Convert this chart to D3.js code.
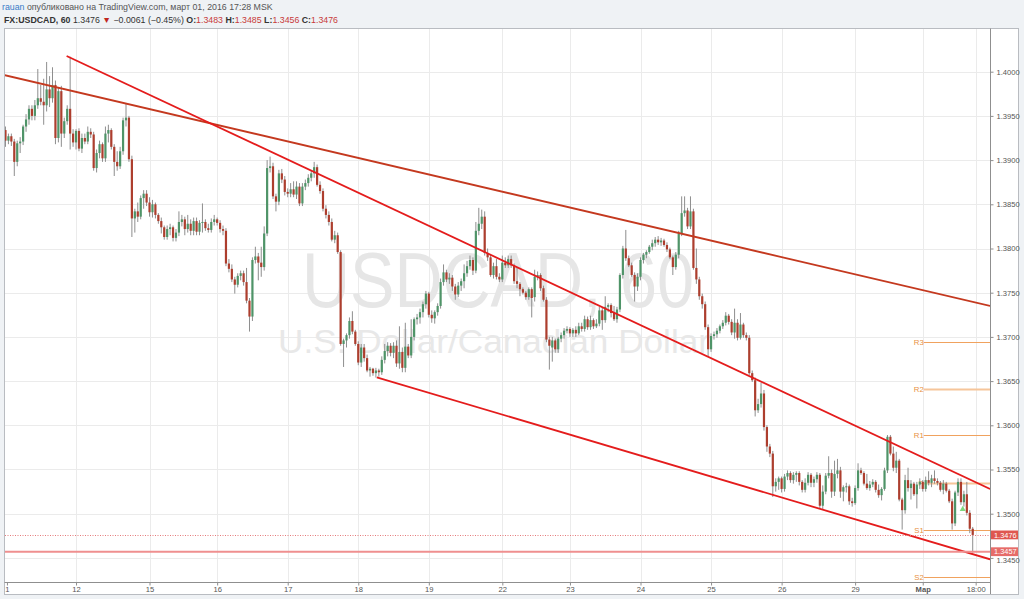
<!DOCTYPE html>
<html><head><meta charset="utf-8">
<script src="https://cdn.jsdelivr.net/npm/d3@7"></script>
<style>html,body{margin:0;padding:0;background:#eff2f5;overflow:hidden}svg{display:block}</style>
</head><body>
<script>
// ---------- DATA (USDCAD, 60 min) ----------
const opens = [
1.3934,1.3922,1.3927,1.3921,1.3898,1.3919,1.3921,1.3938,1.3946,1.3958,
1.3950,1.3962,1.3970,1.3966,1.3962,1.3980,1.3970,1.3985,1.3925,1.3978,
1.3930,1.3944,1.3958,1.3930,1.3920,1.3933,1.3913,1.3925,1.3921,1.3932,
1.3929,1.3891,1.3908,1.3918,1.3902,1.3930,1.3934,1.3915,1.3898,1.3893,
1.3910,1.3945,1.3948,1.3901,1.3834,1.3842,1.3836,1.3857,1.3862,1.3852,
1.3841,1.3850,1.3838,1.3831,1.3824,1.3813,1.3822,1.3824,1.3812,1.3818,
1.3830,1.3833,1.3822,1.3828,1.3820,1.3831,1.3819,1.3829,1.3830,1.3823,
1.3821,1.3830,1.3833,1.3829,1.3822,1.3820,1.3783,1.3777,1.3765,1.3759,
1.3769,1.3772,1.3762,1.3741,1.3723,1.3787,1.3791,1.3784,1.3779,1.3817,
1.3891,1.3893,1.3859,1.3853,1.3885,1.3878,1.3864,1.3862,1.3867,1.3861,
1.3870,1.3851,1.3870,1.3874,1.3880,1.3885,1.3892,1.3872,1.3865,1.3845,
1.3838,1.3830,1.3810,1.3815,1.3796,1.3692,1.3696,1.3702,1.3718,1.3706,
1.3692,1.3671,1.3688,1.3676,1.3662,1.3664,1.3659,1.3662,1.3660,1.3674,
1.3684,1.3690,1.3682,1.3690,1.3670,1.3683,1.3665,1.3689,1.3679,1.3700,
1.3720,1.3722,1.3728,1.3737,1.3749,1.3725,1.3721,1.3728,1.3735,1.3762,
1.3773,1.3765,1.3767,1.3757,1.3748,1.3758,1.3763,1.3772,1.3780,1.3787,
1.3775,1.3820,1.3828,1.3836,1.3795,1.3790,1.3770,1.3780,1.3768,1.3765,
1.3784,1.3781,1.3788,1.3781,1.3763,1.3760,1.3754,1.3750,1.3745,1.3754,
1.3745,1.3768,1.3770,1.3755,1.3742,1.3697,1.3688,1.3696,1.3686,1.3698,
1.3702,1.3707,1.3709,1.3704,1.3708,1.3704,1.3712,1.3709,1.3720,1.3711,
1.3719,1.3712,1.3715,1.3730,1.3719,1.3734,1.3736,1.3727,1.3720,1.3731,
1.3770,1.3800,1.3789,1.3781,1.3770,1.3757,1.3768,1.3787,1.3793,1.3796,
1.3802,1.3806,1.3810,1.3807,1.3809,1.3804,1.3799,1.3790,1.3779,1.3793,
1.3817,1.3840,1.3843,1.3825,1.3842,1.3778,1.3765,1.3746,1.3737,1.3711,
1.3686,1.3701,1.3703,1.3707,1.3712,1.3716,1.3724,1.3717,1.3705,1.3716,
1.3699,1.3714,1.3702,1.3699,1.3659,1.3651,1.3617,1.3624,1.3636,1.3598,
1.3576,1.3568,1.3531,1.3536,1.3540,1.3528,1.3542,1.3546,1.3538,1.3544,
1.3546,1.3536,1.3527,1.3535,1.3544,1.3535,1.3539,1.3544,1.3509,1.3525,
1.3543,1.3546,1.3525,1.3545,1.3549,1.3525,1.3530,1.3531,1.3514,1.3512,
1.3529,1.3549,1.3546,1.3534,1.3529,1.3533,1.3536,1.3527,1.3521,1.3528,
1.3549,1.3587,1.3568,1.3552,1.3560,1.3516,1.3504,1.3538,1.3529,1.3534,
1.3522,1.3533,1.3536,1.3528,1.3538,1.3535,1.3540,1.3537,1.3535,1.3527,
1.3534,1.3526,1.3514,1.3489,1.3524,1.3536,1.3513,1.3522,1.3501,1.3483];
const highs = [
1.3938,1.3930,1.3930,1.3924,1.3922,1.3926,1.3940,1.3952,1.3962,1.3962,
1.3968,1.4003,1.3985,1.3992,1.4011,1.3995,1.4005,1.3990,1.3982,1.3984,
1.3948,1.3962,1.4017,1.3935,1.3935,1.3936,1.3930,1.3930,1.3938,1.3936,
1.3932,1.3912,1.3922,1.3920,1.3938,1.3940,1.3936,1.3918,1.3910,1.3915,
1.3948,1.3964,1.3950,1.3905,1.3845,1.3852,1.3860,1.3866,1.3866,1.3858,
1.3855,1.3852,1.3840,1.3835,1.3826,1.3826,1.3828,1.3826,1.3822,1.3842,
1.3838,1.3836,1.3838,1.3833,1.3835,1.3835,1.3832,1.3851,1.3833,1.3828,
1.3834,1.3838,1.3835,1.3832,1.3826,1.3823,1.3788,1.3782,1.3768,1.3772,
1.3775,1.3775,1.3778,1.3744,1.3790,1.3802,1.3795,1.3802,1.3825,1.3900,
1.3904,1.3897,1.3862,1.3889,1.3890,1.3882,1.3868,1.3874,1.3876,1.3876,
1.3874,1.3874,1.3878,1.3884,1.3888,1.3898,1.3895,1.3876,1.3868,1.3849,
1.3842,1.3834,1.3820,1.3818,1.3798,1.3698,1.3704,1.3722,1.3729,1.3708,
1.3695,1.3692,1.3692,1.3680,1.3666,1.3665,1.3665,1.3664,1.3678,1.3692,
1.3694,1.3693,1.3694,1.3696,1.3712,1.3688,1.3716,1.3692,1.3720,1.3722,
1.3726,1.3732,1.3740,1.3752,1.3751,1.3730,1.3730,1.3738,1.3766,1.3782,
1.3776,1.3772,1.3770,1.3760,1.3762,1.3766,1.3782,1.3786,1.3792,1.3790,
1.3830,1.3846,1.3844,1.3842,1.3800,1.3793,1.3784,1.3788,1.3772,1.3792,
1.3790,1.3792,1.3792,1.3783,1.3778,1.3762,1.3756,1.3752,1.3756,1.3756,
1.3776,1.3774,1.3772,1.3758,1.3745,1.3700,1.3700,1.3698,1.3700,1.3705,
1.3710,1.3712,1.3711,1.3710,1.3712,1.3716,1.3716,1.3724,1.3723,1.3724,
1.3721,1.3720,1.3734,1.3733,1.3746,1.3738,1.3738,1.3735,1.3734,1.3772,
1.3803,1.3821,1.3792,1.3784,1.3773,1.3772,1.3790,1.3795,1.3798,1.3804,
1.3810,1.3813,1.3814,1.3812,1.3811,1.3807,1.3801,1.3792,1.3796,1.3820,
1.3859,1.3859,1.3846,1.3859,1.3845,1.3800,1.3768,1.3749,1.3740,1.3714,
1.3704,1.3706,1.3710,1.3714,1.3719,1.3728,1.3726,1.3720,1.3732,1.3720,
1.3727,1.3716,1.3705,1.3702,1.3662,1.3654,1.3630,1.3648,1.3640,1.3600,
1.3579,1.3571,1.3540,1.3542,1.3542,1.3545,1.3549,1.3548,1.3547,1.3548,
1.3548,1.3538,1.3540,1.3547,1.3546,1.3542,1.3547,1.3546,1.3532,1.3546,
1.3565,1.3550,1.3560,1.3562,1.3553,1.3532,1.3535,1.3533,1.3518,1.3532,
1.3557,1.3552,1.3548,1.3545,1.3537,1.3539,1.3538,1.3533,1.3530,1.3552,
1.3589,1.3589,1.3576,1.3570,1.3562,1.3518,1.3544,1.3552,1.3538,1.3536,
1.3536,1.3540,1.3538,1.3542,1.3548,1.3544,1.3549,1.3540,1.3537,1.3538,
1.3536,1.3528,1.3517,1.3526,1.3540,1.3540,1.3526,1.3536,1.3504,1.3485];
const lows = [
1.3915,1.3918,1.3916,1.3882,1.3893,1.3908,1.3917,1.3932,1.3940,1.3945,
1.3945,1.3958,1.3962,1.3940,1.3955,1.3960,1.3965,1.3918,1.3920,1.3915,
1.3925,1.3940,1.3912,1.3915,1.3912,1.3910,1.3908,1.3918,1.3918,1.3925,
1.3888,1.3886,1.3902,1.3898,1.3898,1.3920,1.3912,1.3882,1.3888,1.3890,
1.3906,1.3938,1.3898,1.3813,1.3818,1.3830,1.3833,1.3845,1.3848,1.3836,
1.3835,1.3834,1.3828,1.3817,1.3810,1.3810,1.3815,1.3808,1.3808,1.3814,
1.3825,1.3815,1.3818,1.3815,1.3815,1.3815,1.3815,1.3818,1.3820,1.3818,
1.3818,1.3826,1.3826,1.3818,1.3815,1.3780,1.3773,1.3762,1.3749,1.3756,
1.3764,1.3758,1.3738,1.3706,1.3718,1.3783,1.3764,1.3768,1.3775,1.3814,
1.3886,1.3856,1.3842,1.3849,1.3874,1.3860,1.3858,1.3858,1.3858,1.3856,
1.3848,1.3848,1.3866,1.3870,1.3876,1.3880,1.3870,1.3862,1.3842,1.3834,
1.3826,1.3808,1.3806,1.3794,1.3690,1.3666,1.3688,1.3698,1.3703,1.3690,
1.3668,1.3666,1.3672,1.3660,1.3655,1.3656,1.3654,1.3655,1.3657,1.3670,
1.3678,1.3678,1.3676,1.3666,1.3664,1.3660,1.3660,1.3676,1.3676,1.3696,
1.3714,1.3715,1.3722,1.3732,1.3722,1.3716,1.3715,1.3724,1.3732,1.3758,
1.3762,1.3760,1.3752,1.3742,1.3745,1.3752,1.3755,1.3768,1.3776,1.3770,
1.3772,1.3815,1.3822,1.3792,1.3786,1.3768,1.3766,1.3765,1.3762,1.3762,
1.3778,1.3778,1.3778,1.3760,1.3755,1.3746,1.3748,1.3742,1.3742,1.3722,
1.3740,1.3764,1.3752,1.3740,1.3694,1.3663,1.3672,1.3682,1.3682,1.3694,
1.3698,1.3704,1.3700,1.3700,1.3700,1.3702,1.3706,1.3706,1.3708,1.3708,
1.3709,1.3710,1.3712,1.3708,1.3716,1.3728,1.3722,1.3718,1.3716,1.3728,
1.3766,1.3786,1.3779,1.3768,1.3740,1.3752,1.3764,1.3783,1.3789,1.3794,
1.3798,1.3802,1.3804,1.3803,1.3802,1.3796,1.3788,1.3770,1.3776,1.3789,
1.3814,1.3836,1.3822,1.3822,1.3776,1.3760,1.3742,1.3732,1.3708,1.3678,
1.3683,1.3697,1.3699,1.3704,1.3709,1.3713,1.3714,1.3702,1.3698,1.3696,
1.3697,1.3699,1.3696,1.3657,1.3649,1.3610,1.3614,1.3620,1.3594,1.3570,
1.3564,1.3519,1.3525,1.3527,1.3524,1.3525,1.3538,1.3535,1.3534,1.3536,
1.3532,1.3524,1.3524,1.3532,1.3530,1.3530,1.3535,1.3506,1.3505,1.3522,
1.3540,1.3518,1.3520,1.3540,1.3518,1.3514,1.3524,1.3510,1.3508,1.3510,
1.3526,1.3544,1.3532,1.3527,1.3526,1.3530,1.3524,1.3518,1.3515,1.3526,
1.3546,1.3566,1.3548,1.3546,1.3514,1.3482,1.3500,1.3525,1.3516,1.3520,
1.3506,1.3528,1.3525,1.3525,1.3532,1.3530,1.3534,1.3532,1.3525,1.3522,
1.3524,1.3512,1.3482,1.3486,1.3520,1.3510,1.3508,1.3498,1.3478,1.3456];
const closes = [
1.3922,1.3927,1.3921,1.3898,1.3919,1.3921,1.3938,1.3946,1.3958,1.3950,
1.3962,1.3970,1.3966,1.3962,1.3980,1.3970,1.3985,1.3925,1.3978,1.3930,
1.3944,1.3958,1.3930,1.3920,1.3933,1.3913,1.3925,1.3921,1.3932,1.3929,
1.3891,1.3908,1.3918,1.3902,1.3930,1.3934,1.3915,1.3898,1.3893,1.3910,
1.3945,1.3948,1.3901,1.3834,1.3842,1.3836,1.3857,1.3862,1.3852,1.3841,
1.3850,1.3838,1.3831,1.3824,1.3813,1.3822,1.3824,1.3812,1.3818,1.3830,
1.3833,1.3822,1.3828,1.3820,1.3831,1.3819,1.3829,1.3830,1.3823,1.3821,
1.3830,1.3833,1.3829,1.3822,1.3820,1.3783,1.3777,1.3765,1.3759,1.3769,
1.3772,1.3762,1.3741,1.3723,1.3787,1.3791,1.3784,1.3779,1.3817,1.3891,
1.3893,1.3859,1.3853,1.3885,1.3878,1.3864,1.3862,1.3867,1.3861,1.3870,
1.3851,1.3870,1.3874,1.3880,1.3885,1.3892,1.3872,1.3865,1.3845,1.3838,
1.3830,1.3810,1.3815,1.3796,1.3692,1.3696,1.3702,1.3718,1.3706,1.3692,
1.3671,1.3688,1.3676,1.3662,1.3664,1.3659,1.3662,1.3660,1.3674,1.3684,
1.3690,1.3682,1.3690,1.3670,1.3683,1.3665,1.3689,1.3679,1.3700,1.3720,
1.3722,1.3728,1.3737,1.3749,1.3725,1.3721,1.3728,1.3735,1.3762,1.3773,
1.3765,1.3767,1.3757,1.3748,1.3758,1.3763,1.3772,1.3780,1.3787,1.3775,
1.3820,1.3828,1.3836,1.3795,1.3790,1.3770,1.3780,1.3768,1.3765,1.3784,
1.3781,1.3788,1.3781,1.3763,1.3760,1.3754,1.3750,1.3745,1.3754,1.3744,
1.3768,1.3770,1.3755,1.3742,1.3697,1.3690,1.3696,1.3686,1.3698,1.3702,
1.3707,1.3709,1.3704,1.3708,1.3704,1.3712,1.3709,1.3720,1.3711,1.3719,
1.3712,1.3715,1.3730,1.3719,1.3734,1.3736,1.3727,1.3720,1.3731,1.3770,
1.3800,1.3789,1.3781,1.3770,1.3757,1.3768,1.3787,1.3793,1.3796,1.3802,
1.3806,1.3810,1.3807,1.3809,1.3804,1.3799,1.3790,1.3779,1.3793,1.3817,
1.3840,1.3843,1.3825,1.3842,1.3778,1.3765,1.3746,1.3737,1.3711,1.3686,
1.3701,1.3703,1.3707,1.3712,1.3716,1.3724,1.3717,1.3705,1.3716,1.3699,
1.3714,1.3702,1.3699,1.3659,1.3651,1.3617,1.3624,1.3636,1.3598,1.3576,
1.3568,1.3531,1.3536,1.3540,1.3528,1.3542,1.3546,1.3538,1.3544,1.3546,
1.3536,1.3527,1.3535,1.3544,1.3535,1.3539,1.3544,1.3509,1.3525,1.3543,
1.3546,1.3525,1.3545,1.3549,1.3525,1.3530,1.3531,1.3514,1.3512,1.3529,
1.3549,1.3546,1.3534,1.3529,1.3533,1.3536,1.3527,1.3521,1.3528,1.3549,
1.3587,1.3568,1.3552,1.3560,1.3516,1.3504,1.3538,1.3529,1.3534,1.3522,
1.3533,1.3536,1.3528,1.3538,1.3535,1.3540,1.3537,1.3535,1.3527,1.3534,
1.3526,1.3514,1.3489,1.3524,1.3536,1.3513,1.3522,1.3501,1.3483,1.3476];

const timeTickIdx    = [0.5, 24, 49, 72, 96, 120, 144, 169, 192, 216, 240, 264, 289, 312, 330];
const timeTickLabels = ["1","12","15","16","17","18","19","22","23","24","25","26","29","Мар","18:00"];
const priceTicks = [1.3450,1.3500,1.3550,1.3600,1.3650,1.3700,1.3750,1.3800,1.3850,1.3900,1.3950,1.4000];

const pivotNames  = ["R3","R2","R1","P","S1","S2"];
const pivotValues = [1.3694,1.3641,1.3589,1.3535,1.3482,1.3428];
const pivotStartIdx = 312;

const trendStartIdx   = [-0.5, 20.8, 126.3];
const trendStartPrice = [1.39963, 1.40178, 1.36543];
const trendEndIdx     = [334.9, 334.9, 334.9];
const trendEndPrice   = [1.37350, 1.35279, 1.34484];

const lastPrice = 1.3476;
const hLinePrice = 1.3457;
const markerIdx = [325.6];
const markerPrice = [1.3505];

// ---------- LAYOUT / STYLE ----------
const W = 1024, H = 599;
const plot = {l: 5, r: 990, t: 29, b: 582};
const FONT = "'Liberation Sans', Arial, 'DejaVu Sans', sans-serif";
const upFill = "#4f9468", downFill = "#ad3e2e", wickCol = "#8e8e8e";

const x = d3.scaleLinear().domain([-0.5, 334.3]).range([4, 988.3]);
const y = d3.scaleLinear().domain([1.345, 1.400]).range([557.9, 71.7]);

const svg = d3.select("body").append("svg").attr("width", W).attr("height", H)
  .style("font-family", FONT);
svg.append("rect").attr("width", W).attr("height", H).attr("fill", "#eff2f5");

// header
const h1 = svg.append("text").attr("x", 2).attr("y", 10).attr("font-size", 8.8).attr("fill", "#555");
h1.append("tspan").attr("fill", "#3a7bc8").text("rauan");
h1.append("tspan").text(" опубликовано на TradingView.com, март 01, 2016 17:28 MSK");
const h2 = svg.append("text").attr("x", 4).attr("y", 23).attr("font-size", 8.8).attr("fill", "#333");
h2.append("tspan").attr("font-weight", "bold").text("FX:USDCAD, 60");
h2.append("tspan").text(" 1.3476 ");
h2.append("tspan").attr("fill", "#c0271f").text("▼");
h2.append("tspan").text(" −0.0061 (−0.45%) ");
[["O:", 1.3483], ["H:", 1.3485], ["L:", 1.3456], ["C:", 1.3476]].forEach(([k, v], i) => {
  h2.append("tspan").attr("font-weight", "bold").text((i ? " " : "") + k);
  h2.append("tspan").attr("fill", "#c83a3a").text(d3.format(".4f")(v));
});

// frame
svg.append("rect").attr("x", 4.5).attr("y", 28.5).attr("width", 1014).attr("height", 566)
  .attr("fill", "#fff").attr("stroke", "#b9bcc1");

const clip = svg.append("defs").append("clipPath").attr("id", "pc");
clip.append("rect").attr("x", plot.l).attr("y", plot.t).attr("width", plot.r - plot.l).attr("height", plot.b - plot.t);

const g = svg.append("g").attr("clip-path", "url(#pc)");

// grid
g.selectAll(".hg").data(priceTicks).enter().append("line")
  .attr("x1", plot.l).attr("x2", plot.r)
  .attr("y1", d => Math.round(y(d)) + 0.5).attr("y2", d => Math.round(y(d)) + 0.5)
  .attr("stroke", "#ebebeb");
g.selectAll(".vg").data(timeTickIdx.slice(1)).enter().append("line")
  .attr("x1", d => Math.round(x(d)) + 0.5).attr("x2", d => Math.round(x(d)) + 0.5)
  .attr("y1", plot.t).attr("y2", plot.b).attr("stroke", "#ebebeb");

// watermark
g.append("text").attr("x", 302).attr("y", 307).attr("font-size", 78)
  .attr("textLength", 392).attr("lengthAdjust", "spacingAndGlyphs")
  .attr("fill", "#e6e6e6").text("USDCAD, 60");
g.append("text").attr("x", 278).attr("y", 353).attr("font-size", 33)
  .attr("textLength", 432).attr("lengthAdjust", "spacingAndGlyphs")
  .attr("fill", "#e8e8e8").text("U.S. Dollar/Canadian Dollar");

// pivots
const pvX1 = x(pivotStartIdx);
pivotNames.forEach((n, i) => {
  const yy = Math.round(y(pivotValues[i])) + 0.5;
  const soft = (n === "R2" || n === "P");
  g.append("line").attr("x1", pvX1 + 1).attr("x2", plot.r).attr("y1", yy).attr("y2", yy)
    .attr("stroke", soft ? "#f6c59a" : "#f0a25e").attr("stroke-width", soft ? 2 : 1);
  g.append("text").attr("x", pvX1 + 1).attr("y", yy).attr("dy", "0.35em")
    .attr("text-anchor", "end").attr("font-size", 7.8).attr("fill", "#e8913f").text(n);
});

// candles
const idx = d3.range(closes.length);
const cg = g.append("g");
cg.selectAll(".w").data(idx).enter().append("line")
  .attr("x1", i => x(i)).attr("x2", i => x(i))
  .attr("y1", i => y(highs[i])).attr("y2", i => y(lows[i]))
  .attr("stroke", wickCol).attr("stroke-width", 1);
cg.selectAll(".b").data(idx).enter().append("rect")
  .attr("x", i => x(i) - 1.1).attr("width", 2.2)
  .attr("y", i => y(Math.max(opens[i], closes[i])))
  .attr("height", i => Math.max(1, Math.abs(y(opens[i]) - y(closes[i]))))
  .attr("fill", i => closes[i] >= opens[i] ? upFill : downFill);

// trend lines
const trendCols = ["#c4391f", "#e41c1c", "#e41c1c"];
trendStartIdx.forEach((s, i) => {
  g.append("line")
    .attr("x1", x(s)).attr("y1", y(trendStartPrice[i]))
    .attr("x2", x(trendEndIdx[i])).attr("y2", y(trendEndPrice[i]))
    .attr("stroke", trendCols[i]).attr("stroke-width", 1.8);
});

// horizontal line + last price dotted
g.append("line").attr("x1", plot.l).attr("x2", plot.r)
  .attr("y1", y(hLinePrice)).attr("y2", y(hLinePrice))
  .attr("stroke", "#ef8f8f").attr("stroke-width", 2);
g.append("line").attr("x1", plot.l).attr("x2", plot.r)
  .attr("y1", Math.round(y(lastPrice)) + 0.5).attr("y2", Math.round(y(lastPrice)) + 0.5)
  .attr("stroke", "#e57a7a").attr("stroke-dasharray", "1,1.5");

// marker
g.selectAll(".mk").data(markerIdx).enter().append("path")
  .attr("d", d3.symbol(d3.symbolTriangle, 16))
  .attr("transform", (d, i) => `translate(${x(d)},${y(markerPrice[i])})`)
  .attr("fill", "#7fd77f");

// axes lines
svg.append("line").attr("x1", 990.5).attr("x2", 990.5).attr("y1", 28.5).attr("y2", 594)
  .attr("stroke", "#8f8f8f");
svg.append("line").attr("x1", 4.5).attr("x2", 990.5).attr("y1", 582.5).attr("y2", 582.5)
  .attr("stroke", "#8f8f8f");

// y axis (the lowest label sits partly under the price boxes, as in the original)
const ya = svg.append("g").attr("transform", "translate(990.5,0)")
  .call(d3.axisRight(y).tickValues(priceTicks).tickFormat(d3.format(".4f")).tickSize(3).tickPadding(3));
ya.select(".domain").remove();
ya.selectAll("line").attr("stroke", "#8f8f8f");
ya.selectAll("text").attr("font-size", 7.6).attr("fill", "#555").style("font-family", FONT)
  .attr("dy", d => d === 1.345 ? "0.65em" : "0.32em");

// x axis
const xa = svg.append("g").attr("transform", "translate(0,582.5)")
  .call(d3.axisBottom(x).tickValues(timeTickIdx).tickFormat((d, i) => timeTickLabels[i]).tickSize(3).tickPadding(1));
xa.select(".domain").remove();
xa.selectAll("line").attr("stroke", "#8f8f8f");
xa.selectAll("text").attr("font-size", 7.6).attr("fill", "#555").style("font-family", FONT)
  .attr("font-weight", (d, i) => timeTickLabels[i] === "Мар" ? "bold" : null);

// price labels on the axis
[[lastPrice, "#df5750"], [hLinePrice, "#e66c69"]].forEach(([p, c]) => {
  const yy = y(p);
  svg.append("rect").attr("x", 991).attr("y", yy - 4.4).attr("width", 27).attr("height", 8.8).attr("fill", c);
  svg.append("text").attr("x", 994).attr("y", yy).attr("dy", "0.35em")
    .attr("font-size", 7.4).attr("fill", "#fff").text(d3.format(".4f")(p));
});
</script>
</body></html>
